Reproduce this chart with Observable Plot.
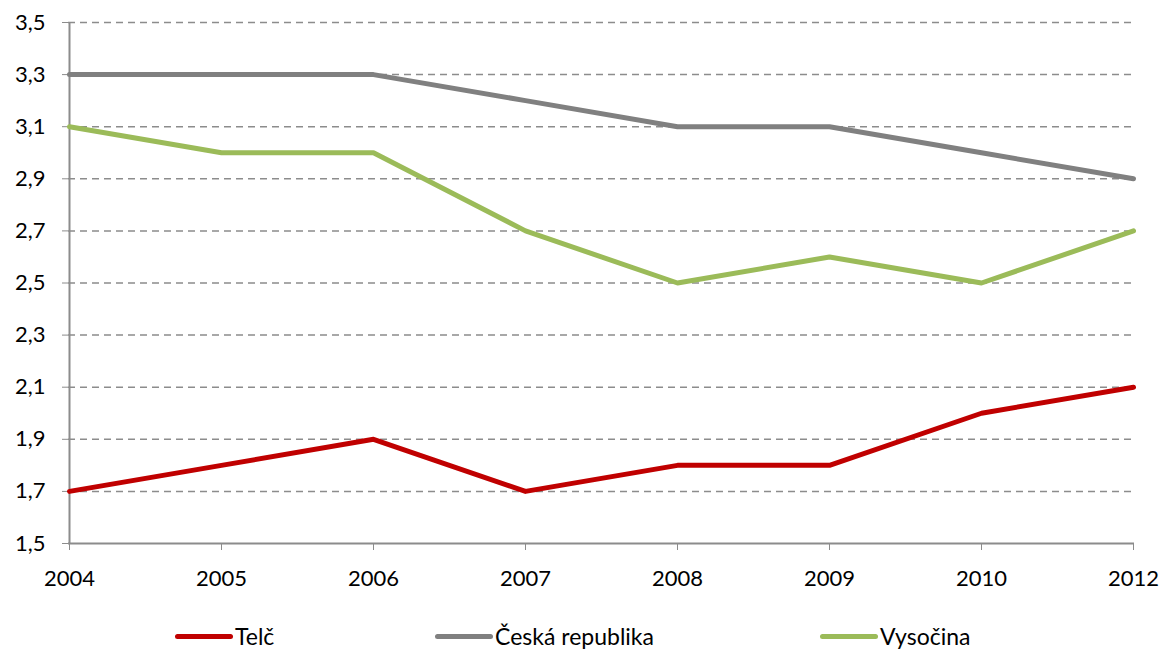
<!DOCTYPE html>
<html>
<head>
<meta charset="utf-8">
<script src="https://cdn.jsdelivr.net/npm/d3@7"></script>
<script src="https://cdn.jsdelivr.net/npm/@observablehq/plot@0.6"></script>
<style>
  html, body { margin: 0; padding: 0; background: #fff; }
  body { width: 1165px; height: 655px; overflow: hidden; font-family: Lato, "Open Sans", sans-serif; }
  #legend { position: relative; height: 55px; font-size: 23px; color: #000; }
  .item { position: absolute; top: 22px; display: flex; align-items: center; }
  .swatch { width: 58px; height: 5px; border-radius: 3px; margin-right: 2px; }
</style>
</head>
<body>
<div id="chart"></div>
<div id="legend"></div>
<script>
const years = ["2004", "2005", "2006", "2007", "2008", "2009", "2010", "2012"];
const telc = [1.7, 1.8, 1.9, 1.7, 1.8, 1.8, 2.0, 2.1];
const ceskaRepublika = [3.3, 3.3, 3.3, 3.2, 3.1, 3.1, 3.0, 2.9];
const vysocina = [3.1, 3.0, 3.0, 2.7, 2.5, 2.6, 2.5, 2.7];
const seriesNames = ["Telč", "Česká republika", "Vysočina"];
const seriesColors = ["#C00000", "#808080", "#9BBB59"];
const yTicks = [1.5, 1.7, 1.9, 2.1, 2.3, 2.5, 2.7, 2.9, 3.1, 3.3, 3.5];

const seriesValues = [telc, ceskaRepublika, vysocina];
const data = [];
seriesNames.forEach((name, i) => {
  years.forEach((y, j) => data.push({series: name, year: y, value: seriesValues[i][j]}));
});
const fmt = d => d.toFixed(1).replace(".", ",");

const chart = Plot.plot({
  width: 1165,
  height: 600,
  marginLeft: 68,
  marginRight: 31,
  marginTop: 22,
  marginBottom: 57,
  style: {fontFamily: "Lato, 'Open Sans', sans-serif", fontSize: "22px", color: "#000", background: "#fff", overflow: "visible"},
  x: {type: "point", domain: years, padding: 0},
  y: {domain: [1.5, 3.5]},
  color: {domain: seriesNames, range: seriesColors},
  marks: [
    Plot.ruleY(yTicks.slice(1), {stroke: "#8c8c8c", strokeWidth: 1.5, strokeDasharray: "7,5"}),
    Plot.ruleY([1.5], {stroke: "#8c8c8c", strokeWidth: 2}),
    Plot.ruleX([years[0]], {stroke: "#8c8c8c", strokeWidth: 2}),
    Plot.axisY({ticks: yTicks, tickFormat: fmt, tickSize: 6, tickPadding: 17, stroke: "#8c8c8c", label: null, fill: "#000"}),
    Plot.axisX({tickSize: 7, tickPadding: 20, stroke: "#8c8c8c", label: null, fill: "#000"}),
    Plot.line(data, {x: "year", y: "value", z: "series", stroke: "series", strokeWidth: 5, strokeLinejoin: "round"})
  ]
});
document.getElementById("chart").appendChild(chart);

const legend = document.getElementById("legend");
const lefts = [175, 435, 820];
seriesNames.forEach((name, i) => {
  const item = document.createElement("div");
  item.className = "item";
  item.style.left = lefts[i] + "px";
  item.innerHTML = `<span class="swatch" style="background:${seriesColors[i]}"></span><span>${name}</span>`;
  legend.appendChild(item);
});
</script>
</body>
</html>
